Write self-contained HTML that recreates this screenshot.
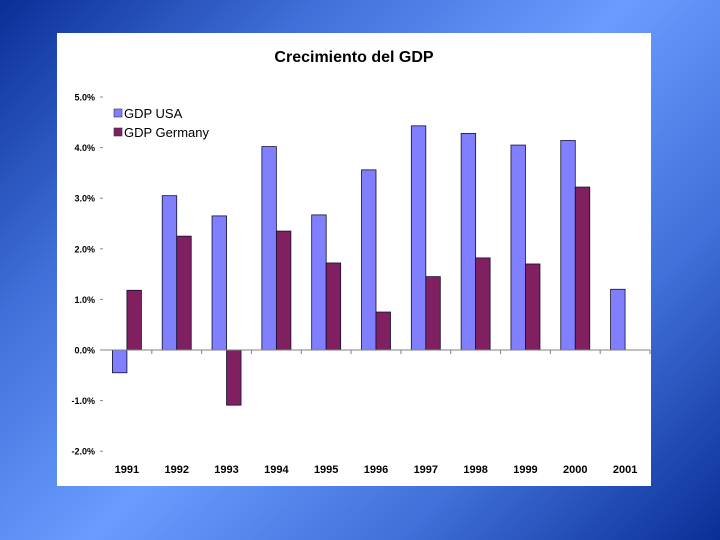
<!DOCTYPE html>
<html><head><meta charset="utf-8"><style>
html,body{margin:0;padding:0}
body{width:720px;height:540px;overflow:hidden;background:linear-gradient(135deg,#0a2f96 0%,#3f6fd8 25%,#6a9cff 50%,#3f6fd8 75%,#0a2f96 100%);font-family:"Liberation Sans",Arial,sans-serif}
#panel{position:absolute;left:57px;top:33px;width:594px;height:453px;background:#fff}
svg{position:absolute;left:0;top:0}
</style></head><body>
<div id="panel"></div>
<svg id="chart" width="720" height="540"></svg>
<script>
const categories=["1991","1992","1993","1994","1995","1996","1997","1998","1999","2000","2001"];
const usaValues=[-0.45,3.05,2.65,4.02,2.67,3.56,4.43,4.28,4.05,4.14,1.2];
const germanyValues=[1.18,2.25,-1.09,2.35,1.72,0.75,1.45,1.82,1.7,3.22,null];
const yTicks=[5,4,3,2,1,0,-1,-2];
const seriesNames=["GDP USA","GDP Germany"];
const NS="http://www.w3.org/2000/svg";
const svg=document.getElementById('chart');
const x0=102,x1=650,y0v=350,pxPer=50.6;
const bw=(x1-x0)/categories.length;
const y=v=>y0v-v*pxPer;
const xc=i=>x0+bw*i+bw/2;
function mk(t,a){const e=document.createElementNS(NS,t);for(const k in a)e.setAttribute(k,a[k]);svg.appendChild(e);return e;}
let t=mk('text',{x:354,y:62,'text-anchor':'middle','font-size':'16','font-weight':'bold',fill:'#000'});t.textContent='Crecimiento del GDP';


yTicks.forEach(v=>{
 const l=mk('text',{x:95,y:y(v)+3.5,'text-anchor':'end','font-size':'9','font-weight':'bold',fill:'#000'});
 l.textContent=v.toFixed(1)+'%';
 
 
 const tk=mk('line',{x1:100,x2:103,y1:y(v),y2:y(v),stroke:'#888','stroke-width':1});
 
 
});
const colors=['#8080ff','#802060'];
[usaValues,germanyValues].forEach((arr,s)=>{
 arr.forEach((v,i)=>{
  if(v===null)return;
  const bx=xc(i)-14.5+s*14.5;
  const r=mk('rect',{x:bx,y:Math.min(y(v),y0v),width:14.5,height:Math.abs(y(v)-y0v),fill:colors[s],stroke:'#101030','stroke-width':0.8});
  
  
 });
});
const ax=mk('line',{x1:x0,x2:x1,y1:y0v,y2:y0v,stroke:'#808080','stroke-width':1});


categories.forEach((c,i)=>{
 const tk=mk('line',{x1:x0+bw*(i+1),x2:x0+bw*(i+1),y1:y0v,y2:y0v+4,stroke:'#808080'});
 
 
 const l=mk('text',{x:xc(i),y:473,'text-anchor':'middle','font-size':'11','font-weight':'bold',fill:'#000'});
 l.textContent=c;
 
 
});
seriesNames.forEach((n,s)=>{
 const sw=mk('rect',{x:114,y:109+s*19,width:8,height:8,fill:colors[s],stroke:'#303040','stroke-width':0.6});
 
 
 const l=mk('text',{x:124,y:118+s*19,'font-size':'13',fill:'#000'});
 l.textContent=n;
 
 
});
</script>
</body></html>
